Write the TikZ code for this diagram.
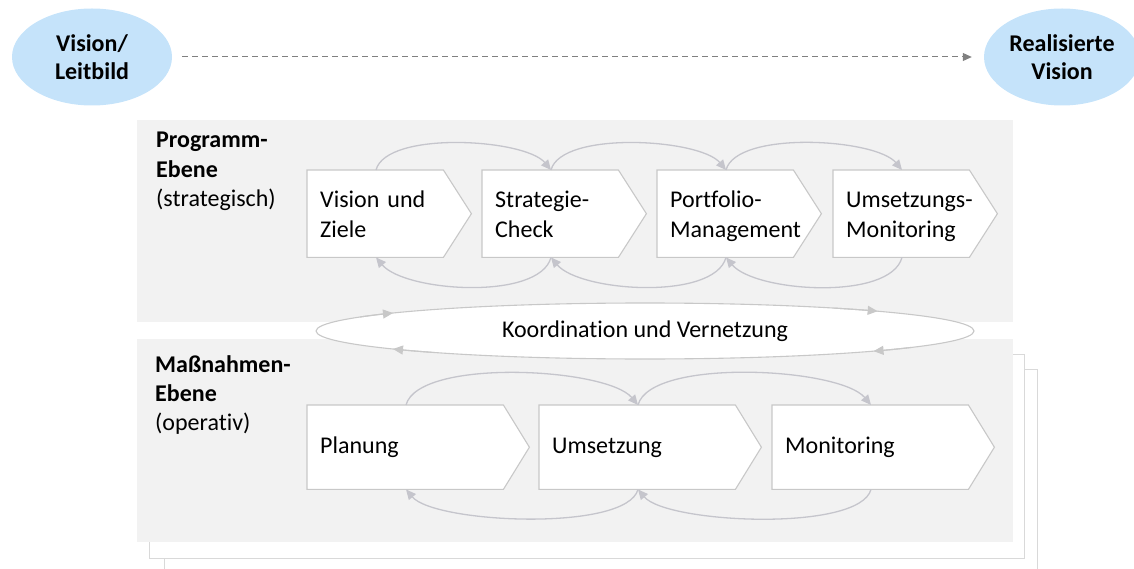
\documentclass[tikz,border=0pt]{standalone}
\usepackage{fontspec}
\setmainfont{Carlito}[Ligatures={NoCommon}]
\usetikzlibrary{shapes.geometric,arrows.meta,calc}
\pgfdeclarelayer{back}
\pgfdeclarelayer{mid}
\pgfsetlayers{back,mid,main}
\definecolor{bgg}{HTML}{F2F2F2}
\definecolor{edgec}{HTML}{C8C8C8}
\definecolor{arrc}{HTML}{C5C5CC}
\definecolor{visc}{HTML}{C5E3FA}
\definecolor{dashc}{HTML}{808080}
\definecolor{pagec}{HTML}{D9D9D9}
\newcommand\topstrut{\rule{0pt}{26pt}}
\begin{document}
\begin{tikzpicture}[x=1pt,y=1pt,
  font=\fontsize{24}{30}\selectfont,
  lbl/.style={anchor=base west, inner sep=0pt},
  topbox/.style={rectangle, anchor=north west, minimum width=164pt, minimum height=87pt,
     text width=138pt, inner xsep=13pt, inner ysep=0pt, align=left,
     execute at begin node=\topstrut, execute at end node=\strut},
  lowbox/.style={rectangle, anchor=north west, minimum width=222pt, minimum height=84pt,
     text width=196pt, inner xsep=13pt, inner ysep=0pt, align=left,
     execute at begin node=\strut, execute at end node=\strut},
  chev/.style={draw=edgec, fill=white, line width=1.1pt},
  conn/.style={draw=arrc, line width=1.3pt, -{Triangle[length=10pt,width=9pt]}},
  vis/.style={ellipse, fill=visc, minimum width=160pt, minimum height=97pt, inner sep=0pt,
     align=center, font=\fontsize{24}{28}\selectfont\bfseries},
  page/.style={draw=pagec, fill=white, line width=1pt},
]
\useasboundingbox (0,0) rectangle (1134,-569);
\clip (0,0) rectangle (1134,-569);

% top ellipses
\node[vis] (v1) at (92,-57) {Vision/\\Leitbild};
\node[vis, minimum width=156pt] (v2) at (1062,-57) {Realisierte\\Vision};
\draw[draw=dashc, line width=1pt, dash pattern=on 6pt off 4pt,
      -{Triangle[length=9pt,width=8pt]}, shorten <=10pt, shorten >=12pt] (v1) -- (v2);

% background layers
\begin{pgfonlayer}{back}
  \path[page] (164,-369) rectangle (1037,-600);
  \path[page] (149,-354) rectangle (1024,-558);
  \fill[bgg] (137,-339) rectangle (1013,-542);
  \fill[bgg] (137,-120) rectangle (1013,-322);
\end{pgfonlayer}

% labels
\node[lbl, font=\fontsize{24}{30}\selectfont\bfseries] (p1) at (156,-148) {Programm-};
\node[lbl, font=\fontsize{24}{30}\selectfont\bfseries] (p2) at (156,-178) {Ebene};
\node[lbl] (p3) at (156,-207) {(strategisch)};
\node[lbl, font=\fontsize{24}{30}\selectfont\bfseries] (m1) at (155,-372) {Maßnahmen-};
\node[lbl, font=\fontsize{24}{30}\selectfont\bfseries] (m2) at (155,-401) {Ebene};
\node[lbl] (m3) at (155,-430) {(operativ)};

% top row boxes
\node[topbox] (b1) at (307,-170) {Vision und\\Ziele};
\node[topbox] (b2) at (482,-170) {Strategie-\\Check};
\node[topbox] (b3) at (657,-170) {Portfolio-\\Management};
\node[topbox] (b4) at (833,-170) {Umsetzungs-\\Monitoring};
% bottom row boxes
\node[lowbox] (c1) at (307,-405) {Planung};
\node[lowbox] (c2) at (539,-405) {Umsetzung};
\node[lowbox] (c3) at (772,-405) {Monitoring};

\begin{pgfonlayer}{mid}
  \foreach \b in {b1,b2,b3,b4}{
    \path[chev] (\b.north west) -- ([xshift=-28pt]\b.north east) -- (\b.east)
      -- ([xshift=-28pt]\b.south east) -- (\b.south west) -- cycle;
  }
  \foreach \b in {c1,c2,c3}{
    \path[chev] (\b.north west) -- ([xshift=-26pt]\b.north east) -- (\b.east)
      -- ([xshift=-26pt]\b.south east) -- (\b.south west) -- cycle;
  }
\end{pgfonlayer}

% top row arrows
\foreach \a/\b in {b1/b2,b2/b3,b3/b4}{
  \draw[conn] ([xshift=69pt]\a.north west) to[out=75,in=130,looseness=0.6] ([xshift=69pt]\b.north west);
  \draw[conn] ([xshift=69pt]\b.south west) to[out=-105,in=-50,looseness=0.66] ([xshift=69pt]\a.south west);
}
% bottom row arrows
\foreach \a/\b in {c1/c2,c2/c3}{
  \draw[conn] ([xshift=99pt]\a.north west) to[out=75,in=130,looseness=0.54] ([xshift=99pt]\b.north west);
  \draw[conn] ([xshift=99pt]\b.south west) to[out=-105,in=-50,looseness=0.49] ([xshift=99pt]\a.south west);
}

% Koordination ellipse
\node[ellipse, draw=edgec, fill=white, line width=1.1pt, minimum width=658pt, minimum height=56pt,
      inner sep=0pt] (k) at (645,-331) {Koordination und Vernetzung};
\foreach \s/\e in {150/140, 55/45, -36/-46, -130/-140}{
  \draw[draw=edgec, line width=1.1pt, -{Triangle[length=10pt,width=9pt]}]
    ([shift={(\s:329pt and 28pt)}]k.center) arc[start angle=\s, end angle=\e, x radius=329pt, y radius=28pt];
}
\end{tikzpicture}
\end{document}
